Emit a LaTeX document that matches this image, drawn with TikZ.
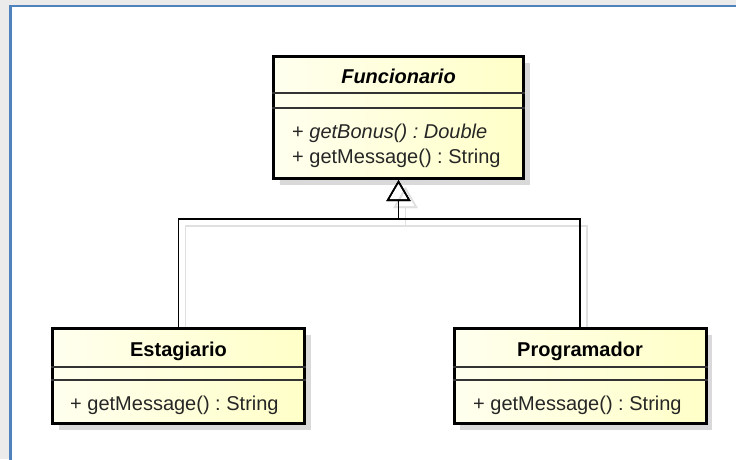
\documentclass[tikz,border=0pt]{standalone}
\usepackage{fontspec}
\setmainfont{Liberation Sans}
\usetikzlibrary{arrows.meta,shadows,backgrounds}
\definecolor{framecolor}{RGB}{79,129,189}
\definecolor{classcolor}{RGB}{255,255,200}
\frenchspacing

\begin{document}
\begin{tikzpicture}[x=1pt, y=-1pt,
    classbox/.style={rectangle, draw=black, line width=3pt, inner sep=0pt, minimum width=252pt,
        left color=classcolor!30, right color=classcolor,
        drop shadow={shadow xshift=6pt, shadow yshift=-6pt, fill=black!15, opacity=1}},
    title/.style={anchor=base, inner sep=0pt, font=\fontsize{20}{24}\selectfont\bfseries},
    abstract/.style={title, font=\fontsize{20}{24}\selectfont\bfseries\itshape},
    method/.style={anchor=base west, inner sep=0pt, font=\fontsize{20}{24}\selectfont, text=black!85},
    sepline/.style={draw=black!80, line width=1.5pt},
    generalize/.style={draw=black, line width=1.6pt, -{Triangle[open, length=21pt, width=24pt]}},
    genshadow/.style={draw=black!12, line width=1.6pt, -{Triangle[open, length=21pt, width=24pt]},
        transform canvas={xshift=7pt, yshift=-7pt}},
]
    \path[use as bounding box, clip] (0,0) rectangle (736,459);

    % Frame
    \begin{scope}[on background layer]
        \fill[black!8] (0,0) rectangle (736,459);
        \draw[framecolor, line width=2.7pt, fill=white] (10.7,6) rectangle (760,480);
    \end{scope}

    % Classes
    \node[classbox, minimum width=250pt, minimum height=122pt] (func) at (398.5,117.5) {};
    \node[classbox, minimum height=95pt] (estag) at (178.5,376) {};
    \node[classbox, minimum height=95pt] (prog) at (580,376) {};

    % Compartments
    \foreach \c/\a/\b in {func/93/108, estag/367/380, prog/367/380} {
        \draw[sepline] (\c.west |- 0,\a) -- (\c.east |- 0,\a);
        \draw[sepline] (\c.west |- 0,\b) -- (\c.east |- 0,\b);
    }

    % Names
    \node[abstract] (funcname) at (398.5,83) {Funcionario};
    \node[title] (estagname) at (178.5,356) {Estagiario};
    \node[title] (progname) at (580,356) {Programador};

    % Operations
    \node[method] (funcbonus) at (292,138) {+ \textit{getBonus() : Double}};
    \node[method] (funcmsg) at (292,163) {+ getMessage() : String};
    \node[method] (estagmsg) at (70,410) {+ getMessage() : String};
    \node[method] (progmsg) at (473,410) {+ getMessage() : String};

    % Generalization
    \coordinate (bus) at (398.5,219);
    \begin{scope}[on background layer]
        \foreach \n in {estag, prog} {
            \draw[genshadow] (\n.north) |- (bus) -- (func.south);
        }
    \end{scope}
    \foreach \n in {estag, prog} {
        \draw[generalize] (\n.north) |- (bus) -- (func.south);
    }
\end{tikzpicture}
\end{document}
